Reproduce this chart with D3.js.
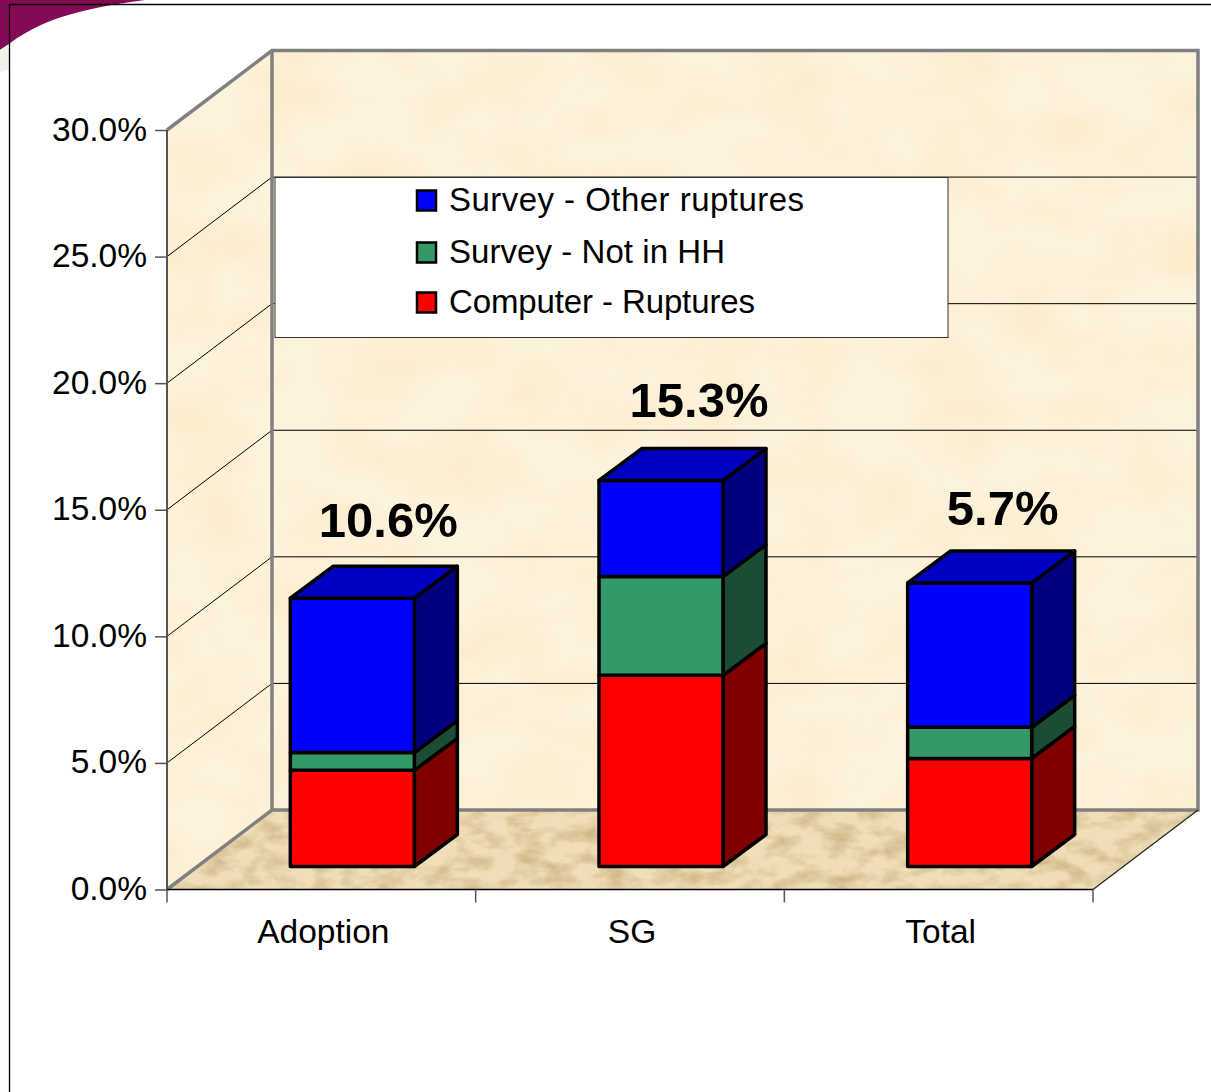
<!DOCTYPE html>
<html><head><meta charset="utf-8">
<script src="https://cdn.jsdelivr.net/npm/d3@7"></script>
<style>html,body{margin:0;padding:0;background:#fff}svg{display:block}text{font-family:"Liberation Sans",Arial,sans-serif;fill:#000}</style>
</head><body><svg id="c" width="1211" height="1092"></svg>
<script>
const categories = ["Adoption","SG","Total"];
const seriesNames = ["Computer - Ruptures","Survey - Not in HH","Survey - Other ruptures"];
const computerRuptures = [3.8,7.55,4.27];
const surveyNotInHH = [0.7,3.9,1.23];
const surveyOther = [6.1,3.8,5.7];
const totalLabels = ["10.6%","15.3%","5.7%"];
const yTicks = [0,5,10,15,20,25,30];
const frontColors = ["#ff0000","#339966","#0000ff"];
const sideColors = ["#800000","#1a4d33","#000080"];

const svg = d3.select("#c");
const W=1211,H=1092;
const y = d3.scaleLinear().domain([0,30]).range([889.5,130]);
const x = d3.scaleBand().domain(categories).range([167,1093]);
const D={x:105,y:-79.5};          // wall depth
const F={x:31,y:-23};             // bar front-face offset from front plane
const B={x:43,y:-32};             // bar depth
const barW=124;
const pts=a=>a.map(p=>p.join(",")).join(" ");

const defs=svg.append("defs");
function tex(id,freq,seed,c0,c1,c2,k,o){
  const f=defs.append("filter").attr("id",id).attr("x",0).attr("y",0).attr("width","100%").attr("height","100%").attr("color-interpolation-filters","sRGB");
  f.append("feTurbulence").attr("type","fractalNoise").attr("baseFrequency",freq).attr("numOctaves",4).attr("seed",seed).attr("result","n");
  f.append("feColorMatrix").attr("in","n").attr("type","matrix").attr("values",
    `0 0 0 0 ${c0}  0 0 0 0 ${c1}  0 0 0 0 ${c2}  ${k} 0 0 0 ${o}`).attr("result","a");
  f.append("feComposite").attr("in","a").attr("in2","SourceGraphic").attr("operator","atop");
}
tex("wallT","0.012 0.018",4,0.98,0.90,0.72,1.0,-0.40);
tex("floorT","0.035 0.07",9,0.78,0.68,0.48,1.8,-0.72);

// page frame + corner decoration
svg.append("path").attr("d","M0,0H145C110,5 50,12 9,44L0,50Z").attr("fill","#850a55");
svg.append("path").attr("d","M0,50L9,44V70L0,72Z").attr("fill","#eef3ea");
svg.append("path").attr("d",`M9.5,${H}V4.5H${W}`).attr("fill","none").attr("stroke","#000").attr("stroke-width",1.3);

// walls and floor
const y0=y(0),y30=y(30),xL=x.range()[0],xR=x.range()[1];
const sideP=[[xL,y30],[xL+D.x,y30+D.y],[xL+D.x,y0+D.y],[xL,y0]];
const backP=[[xL+D.x,y30+D.y],[xR+D.x,y30+D.y],[xR+D.x,y0+D.y],[xL+D.x,y0+D.y]];
const floorP=[[xL,y0],[xL+D.x,y0+D.y],[xR+D.x,y0+D.y],[xR,y0]];
svg.append("polygon").attr("points",pts(sideP)).attr("fill","#fdf2dc").attr("filter","url(#wallT)");
svg.append("polygon").attr("points",pts(backP)).attr("fill","#fdf2dc").attr("filter","url(#wallT)");
svg.append("polygon").attr("points",pts(floorP)).attr("fill","#f1deb8").attr("filter","url(#floorT)");

// gridlines
yTicks.filter(t=>t>0&&t<30).forEach(t=>{
  svg.append("polyline").attr("points",pts([[xL,y(t)],[xL+D.x,y(t)+D.y],[xR+D.x,y(t)+D.y]]))
    .attr("fill","none").attr("stroke","#000").attr("stroke-width",1);
});
// wall outlines
const gray="#808080";
svg.append("polyline").attr("points",pts([[xL,y30],[xL+D.x,y30+D.y],[xR+D.x,y30+D.y],[xR+D.x,y0+D.y],[xL+D.x,y0+D.y],[xL,y0]]))
  .attr("fill","none").attr("stroke",gray).attr("stroke-width",3.5);
svg.append("line").attr("x1",xL+D.x).attr("x2",xL+D.x).attr("y1",y30+D.y).attr("y2",y0+D.y).attr("stroke",gray).attr("stroke-width",3.5);
svg.append("line").attr("x1",xR).attr("y1",y0).attr("x2",xR+D.x).attr("y2",y0+D.y).attr("stroke","#222").attr("stroke-width",1.2);

// axes
const axisY=svg.append("g").attr("transform",`translate(${xL},0)`)
  .call(d3.axisLeft(y).tickValues(yTicks).tickSize(12).tickPadding(8).tickFormat(d=>d.toFixed(1)+"%"));
axisY.select(".domain").attr("stroke","#555").attr("stroke-width",2).attr("d",`M0,${y0}V${y30}`);
axisY.selectAll(".tick line").attr("stroke","#555").attr("stroke-width",1.5);
axisY.selectAll("text").attr("font-size",33.5).attr("font-family",'"Liberation Sans",Arial,sans-serif').attr("fill","#000").attr("dy","0.3em");
const axisX=svg.append("g").attr("transform",`translate(0,${y0})`)
  .call(d3.axisBottom(x).tickSize(0).tickPadding(30));
axisX.select(".domain").attr("stroke","#000").attr("stroke-width",1.5).attr("d",`M${xL},0H${xR}`);
axisX.selectAll("text").attr("font-size",33.5).attr("font-family",'"Liberation Sans",Arial,sans-serif').attr("fill","#000")
  .attr("dy","0.71em").attr("dx",2);
[...categories.map(c=>x(c)),xR].forEach(v=>svg.append("line").attr("x1",v).attr("x2",v).attr("y1",y0).attr("y2",y0+13).attr("stroke","#555").attr("stroke-width",1.5));

// bars
const series=[computerRuptures,surveyNotInHH,surveyOther];
categories.forEach((c,i)=>{
  const left=x(c)+(x.bandwidth()-barW)/2+F.x, right=left+barW;
  let cum=0;
  const g=svg.append("g").attr("stroke","#000").attr("stroke-width",3.5).attr("stroke-linejoin","round");
  series.forEach((s,k)=>{
    const yb=y(cum)+F.y, yt=y(cum+s[i])+F.y;
    cum+=s[i];
    g.append("polygon").attr("points",pts([[right,yb],[right+B.x,yb+B.y],[right+B.x,yt+B.y],[right,yt]])).attr("fill",sideColors[k]);
    g.append("rect").attr("x",left).attr("y",yt).attr("width",barW).attr("height",yb-yt).attr("fill",frontColors[k]);
    if(k===2) g.append("polygon").attr("points",pts([[left,yt],[left+B.x,yt+B.y],[right+B.x,yt+B.y],[right,yt]])).attr("fill","#0000c0");
  });
  const top=y(cum)+F.y;
  svg.append("text").attr("x",left+[98,100,95][i]).attr("y",top-[61,63,58][i]).attr("text-anchor","middle")
    .attr("font-size",49).attr("font-weight","bold").text(totalLabels[i]);
});

// legend
svg.append("rect").attr("x",275).attr("y",177.5).attr("width",673).attr("height",160).attr("fill","#fff").attr("stroke","#333").attr("stroke-width",1);
const legY=[199.5,251.5,301.5];
const legLen=[355,276,306];
[2,1,0].forEach((k,i)=>{
  svg.append("rect").attr("x",417).attr("y",legY[i]-9).attr("width",19).attr("height",20).attr("fill",frontColors[k]).attr("stroke","#000").attr("stroke-width",2.5);
  svg.append("text").attr("x",449).attr("y",legY[i]+11).attr("font-size",33).attr("textLength",legLen[i]).attr("lengthAdjust","spacing").text(seriesNames[k]);
});
</script></body></html>
